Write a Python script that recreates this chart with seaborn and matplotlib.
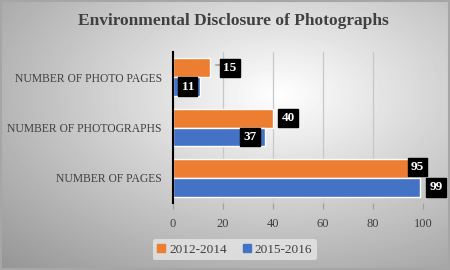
import numpy as np
import pandas as pd
import matplotlib
matplotlib.use("Agg")
import matplotlib.pyplot as plt
import seaborn as sns

categories = ["NUMBER OF PHOTO PAGES", "NUMBER OF PHOTOGRAPHS", "NUMBER OF PAGES"]
series = ["2012-2014", "2015-2016"]
values_2012_2014 = [15, 40, 95]
values_2015_2016 = [11, 37, 99]
x_ticks = [0, 20, 40, 60, 80, 100]

data = pd.DataFrame(
    {
        "category": categories * 2,
        "period": [series[0]] * 3 + [series[1]] * 3,
        "value": values_2012_2014 + values_2015_2016,
    }
)

sns.set_theme(style="white")
plt.rcParams["font.family"] = ["Liberation Serif", "DejaVu Serif"]

fig = plt.figure(figsize=(4.5, 2.7), dpi=100)

# radial grey background like the Office chart style
bg = fig.add_axes([0, 0, 1, 1], zorder=-10)
yy, xx = np.mgrid[0:1:270j, 0:1:450j]
r = np.sqrt(((xx - 0.62) / 0.9) ** 2 + ((yy - 0.35) / 0.9) ** 2)
shade = np.clip(1.0 - 0.42 * r, 0, 1)
bg.imshow(shade, cmap="gray", vmin=0, vmax=1, aspect="auto", extent=[0, 1, 1, 0])
bg.set_xlim(0, 1)
bg.set_ylim(1, 0)
bg.axis("off")
fig.patches.append(
    plt.Rectangle((0.002, 0.004), 0.996, 0.992, transform=fig.transFigure,
                  fill=False, edgecolor="#a6a6a6", linewidth=1.5)
)

ax = fig.add_axes([0.384, 0.248, 0.556, 0.559])
ax.patch.set_alpha(0)
palette = {series[0]: "#ED7D31", series[1]: "#4472C4"}
sns.barplot(
    data=data, y="category", x="value", hue="period", order=categories,
    hue_order=series, palette=palette, orient="h", width=0.75,
    saturation=1, ax=ax, legend=False,
)

ax.set_xlim(0, 100)
ax.set_xticks(x_ticks)
ax.set_xlabel("")
ax.set_ylabel("")
ax.grid(axis="x", color="#c8c8c8", linewidth=0.9)
ax.set_axisbelow(True)
for s in ["top", "right", "bottom"]:
    ax.spines[s].set_visible(False)
ax.spines["left"].set_color("black")
ax.spines["left"].set_linewidth(1.5)
ax.tick_params(axis="x", length=4, color="#a0a0a0", width=0.9, labelsize=9,
               labelcolor="#404040", bottom=True, pad=7)
ax.tick_params(axis="y", length=0, labelsize=8.4, labelcolor="#404040", pad=8)

# data labels in black boxes
offsets_2012 = [(14, 0), (11, 0), (5, 1)]
offsets_2015 = [(-9, 0), (-11, 0), (11, 0)]
bbox = dict(boxstyle="square,pad=0.25", fc="black", ec="black")
for containers, vals, offs in zip(ax.containers, [values_2012_2014, values_2015_2016],
                                  [offsets_2012, offsets_2015]):
    for bar, v, off in zip(containers, vals, offs):
        yc = bar.get_y() + bar.get_height() / 2
        ax.annotate(
            str(v), xy=(v, yc), xytext=off, textcoords="offset points",
            ha="center", va="center", color="white", fontsize=9.5,
            fontweight="bold", bbox=bbox, annotation_clip=False, zorder=5,
        )
# leader line for the small orange label
p = ax.containers[0][0]
ax.annotate("", xy=(values_2012_2014[0] + 1, p.get_y() + p.get_height() * 0.35),
            xytext=(8, 0), textcoords="offset points",
            arrowprops=dict(arrowstyle="-", color="#7f7f7f", lw=0.8), zorder=4)

handles = [plt.Rectangle((0, 0), 1, 1, color=palette[s]) for s in series]
leg = fig.legend(
    handles, series, loc="lower left", bbox_to_anchor=(0.325, 0.012), ncol=2,
    frameon=True, fontsize=9.5, handlelength=0.6, handleheight=0.6,
    handletextpad=0.3, columnspacing=1.2, borderpad=0.35,
)
leg.get_frame().set_facecolor("#e6e6e6")
leg.get_frame().set_edgecolor("none")
leg.get_frame().set_alpha(0.8)
for t in leg.get_texts():
    t.set_color("#404040")

fig.text(0.518, 0.922, "Environmental Disclosure of Photographs", ha="center",
         va="center", fontsize=12.5, fontweight="bold", color="#404040")

fig.savefig("out.png", dpi=100)
